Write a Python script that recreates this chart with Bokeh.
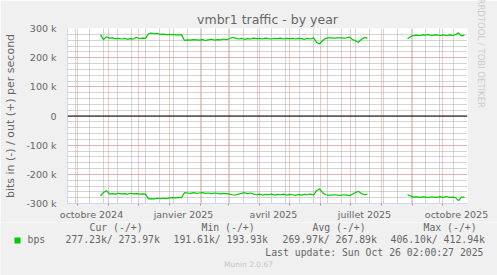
import pandas as pd
from bokeh.plotting import figure
from bokeh.models import (Range1d, FixedTicker, SingleIntervalTicker, Span, Title,
                          CustomJSTickFormatter)
from bokeh.core.properties import value
from bokeh.embed import file_html
from bokeh.resources import INLINE

# ---------------- data ----------------
window_start = pd.Timestamp("2024-09-21")
window_end = pd.Timestamp("2025-10-26")

seg_a_start = "2024-10-24"   # samples every 3 days
seg_b_start = "2025-08-27"

# out (+) traffic, kbit/s
out_a = [279, 262, 272, 267, 268, 265, 266, 264, 266, 263,
         265, 264, 270, 265, 267, 266, 282, 284, 282, 283,
         280, 281, 279, 280, 279, 278, 278, 279, 259, 261,
         260, 262, 261, 260, 262, 259, 261, 263, 260, 262,
         261, 264, 262, 265, 270, 267, 264, 266, 263, 265,
         264, 267, 265, 266, 264, 267, 265, 264, 266, 265,
         267, 264, 266, 265, 266, 264, 266, 265, 263, 266,
         264, 268, 253, 247, 258, 266, 268, 268, 267, 268,
         268, 267, 268, 271, 262, 258, 253, 263, 269, 267]
out_b = [265, 272, 276, 277, 276, 278, 277, 279, 276, 278,
         277, 276, 278, 275, 278, 276, 279, 285, 275, 277]
# in (-) traffic, kbit/s
in_a = [-275, -262, -256, -268, -266, -268, -265, -267, -266, -268,
        -265, -267, -266, -268, -267, -268, -284, -283, -284, -282,
        -283, -282, -283, -281, -280, -281, -280, -280, -263, -264,
        -265, -263, -265, -264, -263, -265, -264, -266, -264, -265,
        -267, -265, -266, -268, -270, -271, -268, -265, -263, -266,
        -264, -268, -270, -268, -271, -269, -270, -268, -271, -269,
        -270, -268, -271, -269, -270, -272, -269, -271, -269, -270,
        -268, -271, -256, -250, -262, -270, -271, -271, -270, -271,
        -272, -270, -271, -273, -268, -262, -259, -266, -270, -268]
in_b = [-270, -274, -278, -277, -279, -277, -278, -280, -277, -279,
        -278, -277, -279, -276, -279, -278, -280, -290, -278, -278]

x_label_dates = ["2024-10-15", "2025-01-15", "2025-04-15", "2025-07-15", "2025-10-15"]
x_labels = ["octobre 2024", "janvier 2025", "avril 2025", "juillet 2025", "octobre 2025"]

title_text = "vmbr1 traffic - by year"
y_label = "bits in (-) / out (+) per second"
watermark = "RRDTOOL / TOBI OETIKER"
legend_headers = ["Cur (-/+)", "Min (-/+)", "Avg (-/+)", "Max (-/+)"]
legend_values = ["277.23k/ 273.97k", "191.61k/ 193.93k", "269.97k/ 267.89k", "406.10k/ 412.94k"]
series_name = "bps"
last_update = "Last update: Sun Oct 26 02:00:27 2025"
version_text = "Munin 2.0.67"


def days(d):
    return list(((pd.DatetimeIndex(d) - window_start) / pd.Timedelta(days=1)).astype(float))


xa = days(pd.date_range(seg_a_start, periods=len(out_a), freq="3D"))
xb = days(pd.date_range(seg_b_start, periods=len(out_b), freq="3D"))
month_days = days(pd.date_range("2024-10-01", "2025-10-01", freq="MS"))
minor_days = days(pd.date_range("2024-09-29", "2025-10-26", freq="14D"))
label_days = days(x_label_dates)
x_total = (window_end - window_start) / pd.Timedelta(days=1)

# ---------------- styling ----------------
W = 497
TOP_H = 222
BOT_H = 275 - TOP_H
FL, FR, FT, FB = 67, 30, 28, 19

MAJ = "#E39292"
MIN = "#ABABAB"
AXC = "#CFD6F8"
FONT = "#666666"
BG = "#F0F0F0"
GREEN = "#00CC00"
SANS = "DejaVu Sans"
MONO = "DejaVu Sans Mono"

# ---------------- main graph ----------------
p = figure(width=W, height=TOP_H, output_backend="svg", toolbar_location=None,
           x_range=Range1d(0, x_total), y_range=Range1d(-300000, 300000),
           min_border_left=FL, min_border_right=FR, min_border_top=FT, min_border_bottom=FB)
p.background_fill_color = "#FFFFFF"
p.border_fill_color = BG
p.outline_line_color = None

p.title.text = title_text
p.title.align = "center"
p.title.offset = -19
p.title.standoff = 3
p.title.text_font = SANS
p.title.text_font_size = "12.5px"
p.title.text_font_style = "normal"
p.title.text_color = FONT

p.add_layout(Title(text=watermark, align="left", offset=-30, standoff=17,
                   text_font=SANS, text_font_size="8.5px", text_font_style="normal",
                   text_color="#CCCCCC"), "right")

# grids
p.xgrid.ticker = FixedTicker(ticks=month_days, minor_ticks=minor_days)
p.xgrid.grid_line_color = MAJ
p.xgrid.grid_line_dash = "1 1"
p.xgrid.minor_grid_line_color = MIN
p.xgrid.minor_grid_line_dash = "1 1"

p.yaxis.ticker = SingleIntervalTicker(interval=100000, num_minor_ticks=5)
p.ygrid.grid_line_color = MAJ
p.ygrid.grid_line_dash = "1 1"
p.ygrid.minor_grid_line_color = MIN
p.ygrid.minor_grid_line_dash = "1 1"

# axes
for ax in (p.xaxis, p.yaxis):
    ax.axis_line_color = AXC
    ax.major_tick_line_color = None
    ax.minor_tick_line_color = None
    ax.major_tick_out = 0
    ax.major_tick_in = 0
    ax.major_label_text_font = SANS
    ax.major_label_text_font_size = "9.5px"
    ax.major_label_text_color = FONT

p.xaxis.ticker = FixedTicker(ticks=label_days, minor_ticks=month_days)
p.xaxis.minor_tick_line_color = "#999999"
p.xaxis.minor_tick_out = 2
p.xaxis.minor_tick_in = 0
p.xaxis.formatter = CustomJSTickFormatter(args=dict(pos=label_days, txt=x_labels), code="""
const i = pos.findIndex(q => Math.abs(q - tick) < 0.5);
return i >= 0 ? txt[i] : "";
""")
p.xaxis.major_label_standoff = 3
p.yaxis.formatter = CustomJSTickFormatter(code="""
if (Math.abs(tick) < 1) return "0";
return (tick / 1000).toFixed(0) + " k";
""")
p.yaxis.major_label_standoff = 7
p.yaxis.axis_label = y_label
p.yaxis.axis_label_text_font = SANS
p.yaxis.axis_label_text_font_size = "11px"
p.yaxis.axis_label_text_font_style = "normal"
p.yaxis.axis_label_text_color = FONT
p.yaxis.axis_label_standoff = 6

# zero line
p.add_layout(Span(location=0, dimension="width", line_color="black", line_width=1))

# data
p.line(xa, [v * 1000 for v in out_a], line_color=GREEN, line_width=1.2)
p.line(xb, [v * 1000 for v in out_b], line_color=GREEN, line_width=1.2)
p.line(xa, [v * 1000 for v in in_a], line_color=GREEN, line_width=1.2)
p.line(xb, [v * 1000 for v in in_b], line_color=GREEN, line_width=1.2)

# ---------------- legend area (separate root, stacked below) ----------------
q = figure(width=W, height=BOT_H, output_backend="svg", toolbar_location=None,
           x_range=Range1d(0, W), y_range=Range1d(BOT_H, 0),
           x_axis_location=None, y_axis_location=None,
           min_border_left=0, min_border_right=0, min_border_top=0, min_border_bottom=0)
q.background_fill_color = BG
q.border_fill_color = BG
q.outline_line_color = None
q.xgrid.visible = False
q.ygrid.visible = False

hdr_x = [89, 201, 312, 423]
val_x = [65, 173, 282, 390]
q.text(x=hdr_x, y=[227 - TOP_H] * 4, text=legend_headers, text_font=value(MONO),
       text_font_size="9.8px", text_baseline="middle", text_align="left", text_color=FONT)
q.text(x=val_x, y=[239 - TOP_H] * 4, text=legend_values, text_font=value(MONO),
       text_font_size="9.8px", text_baseline="middle", text_align="left", text_color=FONT)
q.text(x=[27], y=[239 - TOP_H], text=[series_name], text_font=value(MONO),
       text_font_size="9.8px", text_baseline="middle", text_align="left", text_color=FONT)
q.rect(x=[17], y=[240 - TOP_H], width=6, height=6, fill_color=GREEN, line_color=None)
q.text(x=[483], y=[252 - TOP_H], text=[last_update], text_font=value(MONO),
       text_font_size="9.8px", text_baseline="middle", text_align="right", text_color=FONT)
q.text(x=[248], y=[264 - TOP_H], text=[version_text], text_font=value(SANS),
       text_font_size="7.5px", text_baseline="middle", text_align="center", text_color="#C4C4C4")

open("out.html", "w").write(file_html([p, q], INLINE))
